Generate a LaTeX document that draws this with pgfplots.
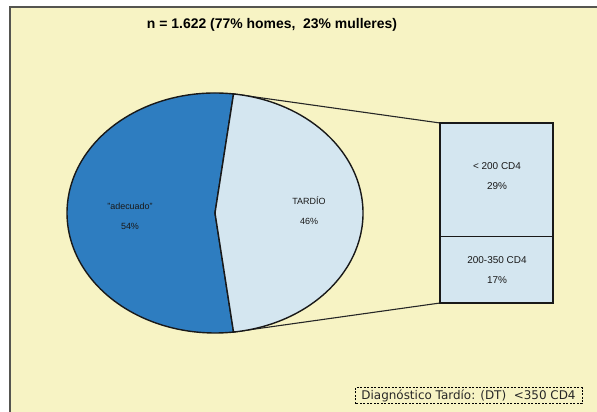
\documentclass[border=0pt]{standalone}
\usepackage{pgfplots}
\usepackage{pgfplotstable}
\usepackage{fontspec}
\setmainfont{Liberation Sans}
\newfontfamily\dejavu{DejaVu Sans}
\pgfplotsset{compat=1.18}

\definecolor{bgyellow}{RGB}{247,243,196}
\definecolor{frame}{RGB}{85,85,80}
\definecolor{pieblue}{RGB}{46,125,192}
\definecolor{paleblue}{RGB}{212,230,240}

% pie: share of each diagnosis group (%)
\pgfplotstableread{
group pct
adecuado 54
tardio 46
}\pietable
% bar: split of the late group by CD4 (%)
\pgfplotstableread{
x pct
0 17
}\barlow
\pgfplotstableread{
x pct
0 29
}\barhigh

\pgfplotstablegetelem{1}{pct}\of\pietable
\pgfmathsetmacro\halfangle{\pgfplotsretval*1.8}
\pgfmathsetmacro\topx{215+148*cos(\halfangle)}
\pgfmathsetmacro\topy{199+120*sin(\halfangle)}
\pgfmathsetmacro\boty{199-120*sin(\halfangle)}

\tikzset{lbl/.style={font=\fontsize{10}{20}\selectfont, align=center, text=black!90}}

\begin{document}
\begin{tikzpicture}
\useasboundingbox (0,0) rectangle (597bp,412bp);
\begin{axis}[
    width=597bp, height=412bp, scale only axis,
    xmin=0, xmax=597, ymin=0, ymax=412,
    hide axis, clip=false,
]
% background panel
\fill[bgyellow] (axis cs:10,0) rectangle (axis cs:597,405);
\draw[frame, line width=2bp] (axis cs:10,0) -- (axis cs:10,405) -- (axis cs:597,405);

\node[font=\bfseries\fontsize{14}{16}\selectfont] at (axis cs:272,387)
    {n = 1.622 (77\% homes,\ \ 23\% mulleres)};

% connectors from pie to bar
\draw[line width=1.1bp, black!85] (axis cs:\topx,\topy) -- (axis cs:440,289);
\draw[line width=1.1bp, black!85] (axis cs:\topx,\boty) -- (axis cs:440,109);

% pie slices, angles from the table
\filldraw[fill=pieblue, draw=black!90, line width=1.4bp]
    (axis cs:215,199) -- (axis cs:\topx,\topy)
    arc[start angle=\halfangle, end angle=360-\halfangle, x radius=148bp, y radius=120bp] -- cycle;
\filldraw[fill=paleblue, draw=black!90, line width=1.4bp]
    (axis cs:215,199) -- (axis cs:\topx,\boty)
    arc[start angle=-\halfangle, end angle=\halfangle, x radius=148bp, y radius=120bp] -- cycle;

\node[lbl, font=\fontsize{9}{20}\selectfont] at (axis cs:130,196) {"adecuado"\\54\%};
\node[lbl, font=\fontsize{9}{20}\selectfont] at (axis cs:309,201) {TARDÍO\\46\%};

% note box
\draw[line width=1bp, dash pattern=on 2bp off 1.5bp] (axis cs:355,8) rectangle (axis cs:582,24);
\node[font=\dejavu\fontsize{12}{13}\selectfont, text=black!85] at (axis cs:468.5,16)
    {Diagnóstico Tardío: (DT)\ \ <350 CD4};
\end{axis}

\begin{axis}[
    at={(440bp,109bp)}, anchor=south west,
    width=113bp, height=180bp, scale only axis,
    xmin=-0.5, xmax=0.5, ymin=0, ymax=46,
    ybar stacked, bar width=113bp,
    hide axis, clip=false,
]
\addplot[fill=paleblue, draw=black!90, line width=1.4bp] table[x=x, y=pct] {\barlow};
\addplot[fill=paleblue, draw=black!90, line width=1.4bp] table[x=x, y=pct] {\barhigh};
\end{axis}

% segment labels, drawn after the stacked bars
\node[lbl] at (497bp,236bp) {< 200 CD4\\29\%};
\node[lbl] at (497bp,142bp) {200-350 CD4\\17\%};
\end{tikzpicture}
\end{document}
